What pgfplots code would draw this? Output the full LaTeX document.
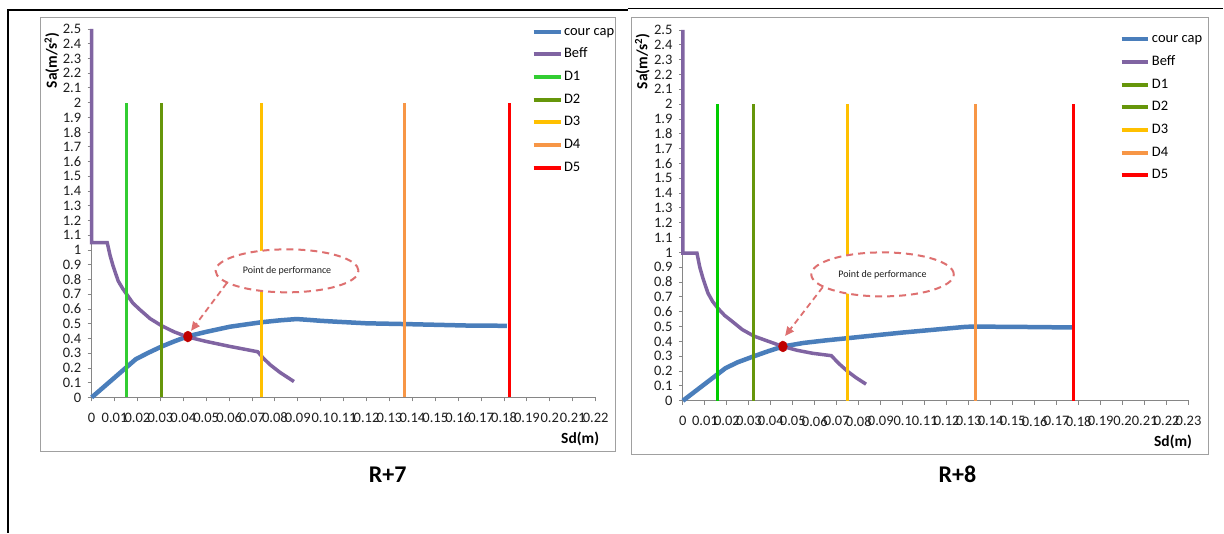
\documentclass[border=0pt]{standalone}
\usepackage{pgfplots}
\pgfplotsset{compat=1.18}
\usepackage{fontspec}
\setmainfont{Carlito}
\usetikzlibrary{arrows.meta}

\definecolor{capblue}{RGB}{74,126,187}
\definecolor{beffpurple}{RGB}{128,100,162}
\definecolor{dgreen}{RGB}{50,205,50}
\definecolor{dgreenb}{RGB}{0,204,0}
\definecolor{dolive}{RGB}{102,150,10}
\definecolor{dgold}{RGB}{255,192,0}
\definecolor{dorange}{RGB}{247,150,70}
\definecolor{dred}{RGB}{255,0,0}
\definecolor{perfred}{RGB}{192,0,0}
\definecolor{annored}{RGB}{222,112,112}
\definecolor{axisgray}{RGB}{134,134,134}
\definecolor{framegray}{RGB}{160,160,160}
\definecolor{txtdark}{RGB}{30,30,30}

\pgfplotsset{
  ppstyle/.style={
    scale only axis, clip=false,
    axis x line*=bottom, axis y line*=left,
    axis line style={-, draw=axisgray, line width=0.9pt},
    xmin=0, ymin=0, ymax=2.5,
    tick align=outside, major tick length=4pt,
    tick style={draw=axisgray, line width=0.9pt},
    ytick={0,0.1,0.2,0.3,0.4,0.5,0.6,0.7,0.8,0.9,1,1.1,1.2,1.3,1.4,1.5,1.6,1.7,1.8,1.9,2,2.1,2.2,2.3,2.4,2.5},
    yticklabels={0,0.1,0.2,0.3,0.4,0.5,0.6,0.7,0.8,0.9,1,1.1,1.2,1.3,1.4,1.5,1.6,1.7,1.8,1.9,2,2.1,2.2,2.3,2.4,2.5},
    ticklabel style={font=\fontsize{14.5}{15}\selectfont, text=txtdark},
    yticklabel style={xshift=-3pt},
    xticklabel style={yshift=-8pt},
    ylabel={Sa(m/s\textsuperscript{2})},
    xlabel={Sd(m)},
    label style={font=\bfseries\fontsize{15.5}{16}\selectfont, text=black},
    legend cell align=left,
    legend style={draw=none, fill=none, inner xsep=0pt, inner ysep=0pt,
      font=\fontsize{14.5}{15}\selectfont, row sep=6.7pt,
      nodes={inner sep=1.5pt, text height=10pt, text depth=3pt}},
    legend image code/.code={\draw[#1, line width=4pt] (0pt,0pt) -- (27pt,0pt);},
  }
}

\begin{document}
\begin{tikzpicture}[x=1pt,y=1pt]
\fill[white] (0,0) rectangle (1224,533);
\draw[black, line width=2pt] (8,0) -- (8,523) -- (628,523);
\draw[black, line width=1.5pt] (628,524.5) -- (1224,524.5);
\draw[framegray, line width=0.9pt] (40.7,516) rectangle (616,81);
\draw[framegray, line width=0.9pt] (632,516) rectangle (1209,78);

% ---------------- R+7 ----------------
\begin{axis}[ppstyle,
  at={(91.7pt,135.3pt)}, anchor=south west,
  width=504.3pt, height=368.7pt, xmax=0.22,
  xtick={0,0.01,0.02,0.03,0.04,0.05,0.06,0.07,0.08,0.09,0.1,0.11,0.12,0.13,0.14,0.15,0.16,0.17,0.18,0.19,0.2,0.21,0.22},
  xticklabels={0,0.01,0.02,0.03,0.04,0.05,0.06,0.07,0.08,0.09,0.1,0.11,0.12,0.13,0.14,0.15,0.16,0.17,0.18,0.19,0.2,0.21,0.22},
  ylabel style={at={(axis description cs:-0.0787,1)}, anchor=east},
  xlabel style={at={(axis description cs:1,0)}, anchor=north east, xshift=7pt, yshift=-31pt},
  legend style={at={(axis description cs:0.8725,1.015)}, anchor=north west},
]
\addplot[capblue, line width=4.5pt] coordinates {
 (0,0) (0.0193,0.26) (0.025,0.305) (0.0306,0.346) (0.036,0.38) (0.042,0.415)
 (0.05,0.445) (0.0604,0.48) (0.074,0.51) (0.082,0.523) (0.0895,0.532) (0.095,0.526) (0.1,0.52)
 (0.1055,0.515) (0.12,0.503) (0.1364,0.498) (0.1637,0.488) (0.1813,0.486)};
\addlegendentry{cour cap}
\addplot[beffpurple, line width=3.5pt] coordinates {
 (0,2.5) (0,1.05) (0.0068,1.05) (0.0081,0.96) (0.0094,0.89) (0.0116,0.79) (0.0135,0.74) (0.0153,0.70)
 (0.018,0.64) (0.0211,0.595) (0.0255,0.535) (0.0306,0.486) (0.036,0.445) (0.042,0.41)
 (0.05,0.38) (0.0604,0.346) (0.0725,0.31) (0.0749,0.267) (0.0779,0.222) (0.0822,0.170) (0.0883,0.108)};
\addlegendentry{Beff}
\addplot[dgreen, line width=3pt] coordinates {(0.0153,0) (0.0153,2)};
\addlegendentry{D1}
\addplot[dolive, line width=3pt] coordinates {(0.0306,0) (0.0306,2)};
\addlegendentry{D2}
\addplot[dgold, line width=3pt] coordinates {(0.0742,0) (0.0742,2)};
\addlegendentry{D3}
\addplot[dorange, line width=3pt] coordinates {(0.1364,0) (0.1364,2)};
\addlegendentry{D4}
\addplot[dred, line width=3pt] coordinates {(0.1823,0) (0.1823,2)};
\addlegendentry{D5}
\addplot[forget plot, only marks, mark=*, mark size=5.5pt, mark options={fill=perfred, draw=perfred, xscale=0.8}] coordinates {(0.042,0.413)};
\draw[annored, dash pattern=on 7pt off 5pt, line width=2pt, fill=white] (axis cs:0.0853,0.859) ellipse [x radius=71.5pt, y radius=21.5pt];
\node[font=\fontsize{10}{11}\selectfont, text=txtdark] at (axis cs:0.0853,0.859) {Point de performance};
\draw[annored, dash pattern=on 6pt off 4pt, line width=1.8pt, -{Triangle[length=9pt,width=8pt]}] (axis cs:0.059,0.776) -- (axis cs:0.0434,0.452);
\end{axis}

% ---------------- R+8 ----------------
\begin{axis}[ppstyle,
  at={(683.3pt,132pt)}, anchor=south west,
  width=506pt, height=371pt, xmax=0.23,
  xtick={0,0.01,0.02,0.03,0.04,0.05,0.06,0.07,0.08,0.09,0.1,0.11,0.12,0.13,0.14,0.15,0.16,0.17,0.18,0.19,0.2,0.21,0.22,0.23},
  xticklabels={0,0.01,0.02,0.03,0.04,0.05,0.06,0.07,0.08,0.09,0.1,0.11,0.12,0.13,0.14,0.15,0.16,0.17,0.18,0.19,0.2,0.21,0.22,0.23},
  ylabel style={at={(axis description cs:-0.0802,1)}, anchor=east},
  xlabel style={at={(axis description cs:1,0)}, anchor=north east, xshift=7pt, yshift=-31pt},
  legend style={at={(axis description cs:0.863,0.997)}, anchor=north west},
]
\addplot[capblue, line width=4.5pt] coordinates {
 (0,0) (0.0194,0.22) (0.025,0.26) (0.0323,0.30) (0.039,0.335) (0.0455,0.366) (0.055,0.39)
 (0.065,0.407) (0.075,0.422) (0.09,0.445) (0.1,0.46) (0.115,0.48) (0.1288,0.4986) (0.1332,0.50)
 (0.159,0.497) (0.1776,0.494)};
\addlegendentry{cour cap}
\addplot[beffpurple, line width=3.5pt] coordinates {
 (0,2.5) (0,0.995) (0.0064,0.995) (0.0077,0.90) (0.0091,0.827) (0.0114,0.726) (0.0135,0.67) (0.0159,0.624)
 (0.019,0.575) (0.022,0.54) (0.027,0.48) (0.0323,0.436) (0.039,0.40) (0.0455,0.366) (0.052,0.34)
 (0.059,0.32) (0.0675,0.304) (0.071,0.25) (0.075,0.197) (0.079,0.153) (0.0833,0.112)};
\addlegendentry{Beff}
\addlegendimage{dolive}
\addlegendentry{D1}
\addplot[forget plot, dgreenb, line width=3pt] coordinates {(0.0159,0) (0.0159,2)};
\addplot[dolive, line width=3pt] coordinates {(0.0323,0) (0.0323,2)};
\addlegendentry{D2}
\addplot[dgold, line width=3pt] coordinates {(0.075,0) (0.075,2)};
\addlegendentry{D3}
\addplot[dorange, line width=3pt] coordinates {(0.1332,0) (0.1332,2)};
\addlegendentry{D4}
\addplot[dred, line width=3pt] coordinates {(0.1776,0) (0.1776,2)};
\addlegendentry{D5}
\addplot[forget plot, only marks, mark=*, mark size=5.5pt, mark options={fill=perfred, draw=perfred, xscale=0.8}] coordinates {(0.0455,0.366)};
\draw[annored, dash pattern=on 7pt off 5pt, line width=2pt, fill=white] (axis cs:0.0908,0.852) ellipse [x radius=71.3pt, y radius=22pt];
\node[font=\fontsize{10}{11}\selectfont, text=txtdark] at (axis cs:0.0908,0.852) {Point de performance};
\draw[annored, dash pattern=on 6pt off 4pt, line width=1.8pt, -{Triangle[length=9pt,width=8pt]}] (axis cs:0.0636,0.766) -- (axis cs:0.0465,0.437);
\end{axis}

\node[font=\bfseries\fontsize{24}{24}\selectfont] at (388,58) {R+7};
\node[font=\bfseries\fontsize{24}{24}\selectfont] at (958,58) {R+8};
\end{tikzpicture}
\end{document}
